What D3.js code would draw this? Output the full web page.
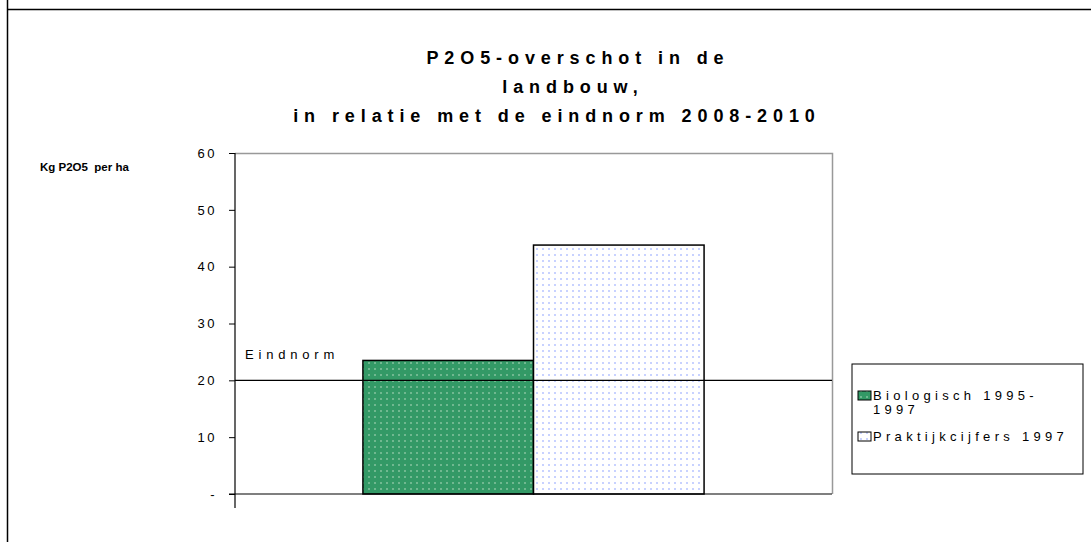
<!DOCTYPE html>
<html>
<head>
  <meta charset="utf-8">
  <style>
    body { margin: 0; background: #fff; }
    svg text { font-family: "Liberation Sans", Arial, sans-serif; }
    .tick text { font-size: 13px; letter-spacing: 2.5px; }
  </style>
</head>
<body>
  <svg id="chart" width="1091" height="542"></svg>

  <script src="https://d3js.org/d3.v7.min.js"></script>
  <script>
    // data
    const titleLines = ["P2O5-overschot in de", "landbouw,", "in relatie met de eindnorm 2008-2010"];
    const groups = ["P2O5"];
    const seriesNames = ["Biologisch 1995-1997", "Praktijkcijfers 1997"];
    const legendLines = [["Biologisch 1995-", "1997"], ["Praktijkcijfers 1997"]];
    const seriesValues = [23.5, 43.8];
    const yTickValues = [0, 10, 20, 30, 40, 50, 60];
    const yTickLabels = ["-", "10", "20", "30", "40", "50", "60"];
    const normValue = 20;
    const normLabel = "Eindnorm";
    const yLabel = "Kg P2O5  per ha";

    const svg = d3.select("#chart");

    // pattern fills, like the old spreadsheet chart
    const defs = svg.append("defs");
    const pGreen = defs.append("pattern")
      .attr("id", "dotsGreen").attr("patternUnits", "userSpaceOnUse")
      .attr("width", 6).attr("height", 6);
    pGreen.append("rect").attr("width", 6).attr("height", 6).attr("fill", "#339966");
    pGreen.append("rect").attr("x", 2).attr("y", 2).attr("width", 2).attr("height", 2).attr("fill", "#70b890");

    const pWhite = defs.append("pattern")
      .attr("id", "dotsWhite").attr("patternUnits", "userSpaceOnUse")
      .attr("width", 6).attr("height", 6);
    pWhite.append("rect").attr("width", 6).attr("height", 6).attr("fill", "#ffffff");
    pWhite.append("rect").attr("x", 2).attr("y", 2).attr("width", 2).attr("height", 2).attr("fill", "#c8d2ff");

    const fills = ["url(#dotsGreen)", "url(#dotsWhite)"];

    // outer frame (top and left edge)
    svg.append("line").attr("x1", 7.5).attr("x2", 1091).attr("y1", 9.5).attr("y2", 9.5)
      .attr("stroke", "#000").attr("stroke-width", 1.5);
    svg.append("line").attr("x1", 7.5).attr("x2", 7.5).attr("y1", 0).attr("y2", 542)
      .attr("stroke", "#000").attr("stroke-width", 1.5);

    // title, each wrapped line centred a bit differently (as in the original)
    const titleX = [578, 573, 557];
    svg.append("text")
      .attr("y", 64)
      .attr("text-anchor", "middle")
      .style("font-size", "18px").style("font-weight", "bold").style("letter-spacing", "5.9px")
      .selectAll("tspan")
      .data(titleLines)
      .join("tspan")
      .attr("x", (d, i) => titleX[i])
      .attr("dy", (d, i) => i === 0 ? 0 : 29)
      .text(d => d);

    const plotLeft = 235, plotRight = 832, plotTop = 153, plotBottom = 494;

    const x0 = d3.scaleBand().domain(groups).range([plotLeft, plotRight])
      .paddingInner(0).paddingOuter(0.375);
    const x1 = d3.scaleBand().domain(seriesNames).range([0, x0.bandwidth()]);
    const y = d3.scaleLinear().domain([0, 60]).range([plotBottom, plotTop]);

    // plot area border (top / right)
    svg.append("path")
      .attr("d", `M${plotLeft},${plotTop + 0.5}H${plotRight + 0.5}V${plotBottom}`)
      .attr("fill", "none").attr("stroke", "#999").attr("stroke-width", 1.5);

    // bars
    svg.append("g")
      .selectAll("rect")
      .data(seriesValues.map((v, i) => ({ name: seriesNames[i], value: v, fill: fills[i] })))
      .join("rect")
      .attr("x", d => x0(groups[0]) + x1(d.name))
      .attr("y", d => y(d.value))
      .attr("width", x1.bandwidth())
      .attr("height", d => y(0) - y(d.value))
      .attr("fill", d => d.fill)
      .attr("stroke", "#000").attr("stroke-width", 1.5);

    // norm line
    svg.append("line")
      .attr("x1", plotLeft).attr("x2", plotRight)
      .attr("y1", y(normValue)).attr("y2", y(normValue))
      .attr("stroke", "#000").attr("stroke-width", 1.2);
    svg.append("text")
      .attr("x", plotLeft + 10).attr("y", y(normValue) - 21)
      .style("font-size", "13px").style("letter-spacing", "4.8px")
      .text(normLabel);

    // y axis
    const yAxis = svg.append("g")
      .attr("transform", `translate(${plotLeft},0)`)
      .call(d3.axisLeft(y).tickValues(yTickValues)
        .tickFormat((d, i) => yTickLabels[i]).tickSize(6).tickPadding(12));
    yAxis.select(".domain").remove();
    yAxis.selectAll(".tick line").attr("stroke", "#000");
    yAxis.selectAll(".tick text").attr("fill", "#000");
    svg.append("line").attr("x1", plotLeft).attr("x2", plotLeft).attr("y1", plotTop).attr("y2", plotBottom + 14)
      .attr("stroke", "#000").attr("stroke-width", 1.2);

    // x axis line
    svg.append("line").attr("x1", plotLeft - 6).attr("x2", plotRight).attr("y1", plotBottom).attr("y2", plotBottom)
      .attr("stroke", "#000").attr("stroke-width", 1.2);

    // y axis title
    svg.append("text")
      .attr("x", 40).attr("y", 171)
      .style("font-size", "11.5px").style("font-weight", "bold")
      .attr("xml:space", "preserve")
      .text(yLabel);

    // legend
    const lg = svg.append("g").attr("transform", "translate(852,364)");
    lg.append("rect").attr("width", 231).attr("height", 110)
      .attr("fill", "#fff").attr("stroke", "#000").attr("stroke-width", 1);
    const itemY = [36, 77];
    legendLines.forEach((lines, i) => {
      lg.append("rect")
        .attr("x", 6).attr("y", itemY[i] - 9).attr("width", 13).attr("height", 9)
        .attr("fill", fills[i]).attr("stroke", "#000").attr("stroke-width", 1);
      lg.append("text")
        .attr("x", 21).attr("y", itemY[i])
        .style("font-size", "13px").style("letter-spacing", "4.3px")
        .selectAll("tspan")
        .data(lines)
        .join("tspan")
        .attr("x", 21)
        .attr("dy", (d, j) => j === 0 ? 0 : 14)
        .text(d => d);
    });
  </script>
</body>
</html>
